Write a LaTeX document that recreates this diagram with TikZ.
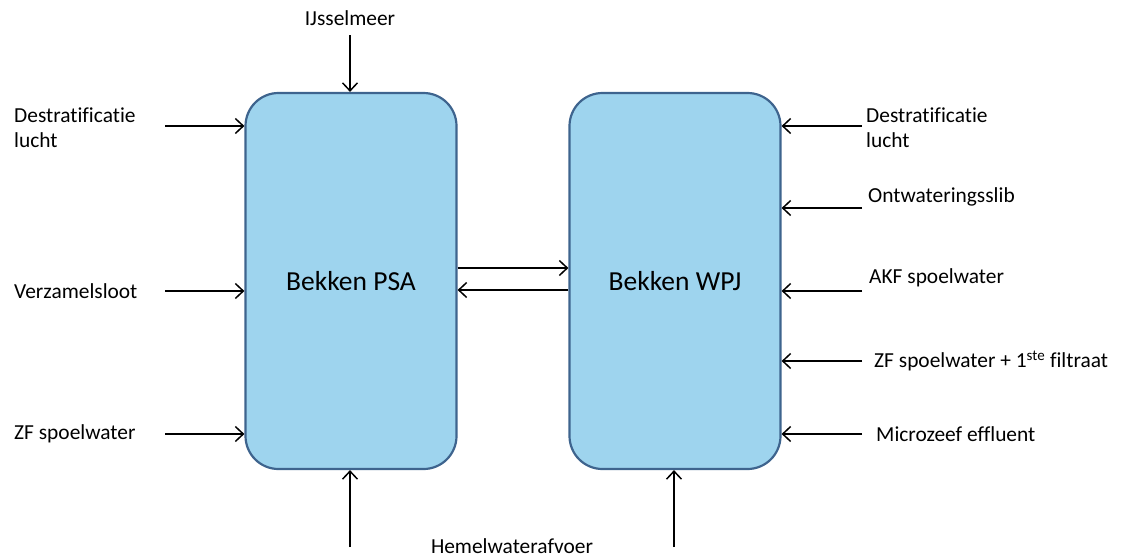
\documentclass[tikz,border=0pt]{standalone}
\usepackage{fontspec}
\setmainfont{Carlito}[Ligatures=NoCommon]
\usetikzlibrary{arrows.meta}
\definecolor{boxfill}{RGB}{158,212,238}
\definecolor{boxline}{RGB}{62,100,142}
\tikzset{
  basin/.style={draw=boxline, line width=2.2pt, fill=boxfill, rounded corners=33pt,
    minimum width=211pt, minimum height=376pt, inner sep=0pt,
    font=\fontsize{27.5}{32}\selectfont},
  lbl/.style={inner sep=0pt, align=left, font=\fontsize{21.4}{25}\selectfont},
  arr/.style={line width=1.5pt, -{Straight Barb[length=8pt,width=15pt,line width=1.5pt]}}
}
\begin{document}
\begin{tikzpicture}[x=1pt,y=-1pt]
\useasboundingbox (0,0) rectangle (1125,557);
% basins
\node[basin] (psa) at (351,281) {Bekken PSA};
\node[basin] (wpj) at (675,281) {Bekken WPJ};
% labels
\node[lbl] (ijs) at (350,18) {IJsselmeer};
\node[lbl, anchor=west] (ld) at (14,128) {Destratificatie\\lucht};
\node[lbl, anchor=west] (lv) at (14,291) {Verzamelsloot};
\node[lbl, anchor=west] (lz) at (14,434) {ZF spoelwater};
\node[lbl, anchor=west] (rd) at (866,128) {Destratificatie\\lucht};
\node[lbl, anchor=west] (ro) at (868,197) {Ontwateringsslib};
\node[lbl, anchor=west] (ra) at (869,278) {AKF spoelwater};
\node[lbl, anchor=west] (rz) at (874,361) {ZF spoelwater + 1\textsuperscript{ste} filtraat};
\node[lbl, anchor=west] (rm) at (876,434) {Microzeef effluent};
\node[lbl] (hw) at (512,546) {Hemelwaterafvoer};
% arrow start coordinates
\coordinate (sij) at (350,35);
\coordinate (sld) at (165,126);
\coordinate (slv) at (165,291);
\coordinate (slz) at (165,434);
\coordinate (srd) at (862,126);
\coordinate (sro) at (862,208);
\coordinate (sra) at (862,291);
\coordinate (srz) at (862,361);
\coordinate (srm) at (862,434);
\coordinate (sbp) at (350,547);
\coordinate (sbw) at (674,547);
\coordinate (m1) at (456,268);
\coordinate (m2) at (456,290);
% arrows
\draw[arr] (sij) -- (sij |- psa.north);
\draw[arr] (sld) -- (sld -| psa.west);
\draw[arr] (slv) -- (slv -| psa.west);
\draw[arr] (slz) -- (slz -| psa.west);
\draw[arr] (srd) -- (srd -| wpj.east);
\draw[arr] (sro) -- (sro -| wpj.east);
\draw[arr] (sra) -- (sra -| wpj.east);
\draw[arr] (srz) -- (srz -| wpj.east);
\draw[arr] (srm) -- (srm -| wpj.east);
\draw[arr] (sbp) -- (sbp |- psa.south);
\draw[arr] (sbw) -- (sbw |- wpj.south);
\draw[arr] (m1 -| psa.east) -- (m1 -| wpj.west);
\draw[arr] (m2 -| wpj.west) -- (m2 -| psa.east);
\end{tikzpicture}
\end{document}
